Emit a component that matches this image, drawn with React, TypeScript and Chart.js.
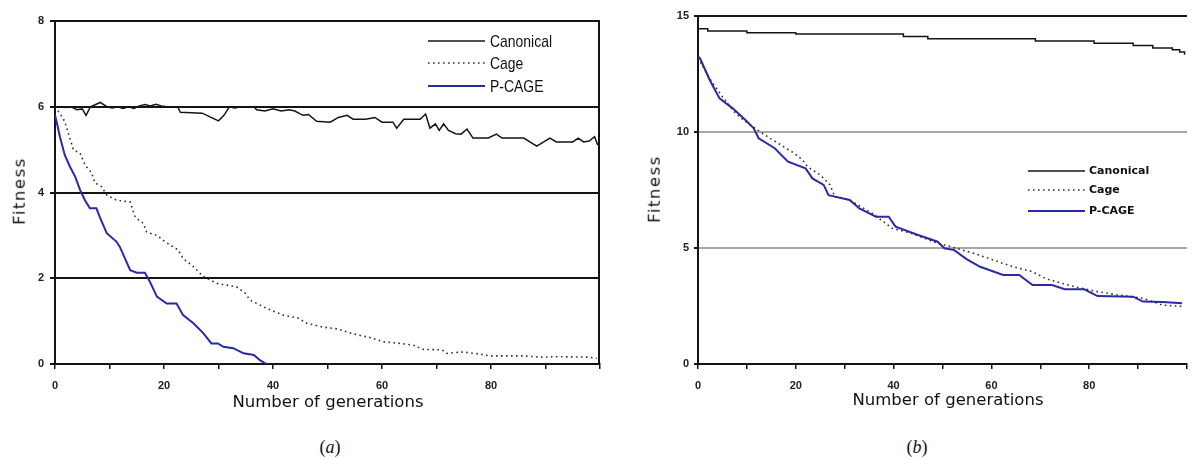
import React, { useEffect, useRef } from "react";
import { Chart, registerables } from "chart.js";

Chart.register(...registerables);

// ---------- DATA ----------
const SERIES_NAMES = ["Canonical", "Cage", "P-CAGE"];
const X_TICK_LABELS = [0, 20, 40, 60, 80];
const A_Y_TICK_LABELS = [0, 2, 4, 6, 8];
const B_Y_TICK_LABELS = [0, 5, 10, 15];

// Chart (a)
const A_CANONICAL_X = [
  0, 1, 2, 3, 4, 5, 5.7, 6.5, 8.3, 9.5,
  10.5, 11.5, 12.5, 13.5, 14.5, 15.5, 16.5, 17.5, 18.5, 19.5,
  20.5, 22.5, 23, 27, 30, 31, 32, 33, 34, 36.5,
  37, 38.5, 40, 41.5, 43, 44, 45.5, 46.5, 48, 50.5,
  52, 53.6, 54.7, 57, 58.7, 60, 62, 62.7, 64, 67,
  68, 68.8, 69.8, 70.5, 71.3, 72.2, 73.5, 74.5, 75.6, 76.7,
  79.5, 81, 82, 86, 88.4, 90.8, 92, 95, 96, 97,
  98, 99, 99.6,
];
const A_CANONICAL_Y = [
  6.0, 6.0, 5.98, 6.0, 5.93, 5.95, 5.8, 6.0, 6.1, 6.0,
  5.97, 6.0, 5.96, 6.0, 5.96, 6.02, 6.05, 6.02, 6.06, 6.02,
  6.0, 6.0, 5.87, 5.85, 5.67, 5.8, 6.0, 5.97, 6.0, 6.0,
  5.93, 5.9, 5.95, 5.9, 5.93, 5.9, 5.8, 5.82, 5.66, 5.64,
  5.75, 5.8, 5.71, 5.71, 5.75, 5.64, 5.64, 5.5, 5.71, 5.71,
  5.83, 5.5, 5.6, 5.45, 5.6, 5.45, 5.37, 5.36, 5.48, 5.27,
  5.27, 5.36, 5.27, 5.27, 5.08, 5.27, 5.18, 5.18, 5.27, 5.18,
  5.2, 5.3, 5.1,
];
const A_CAGE_X = [
  0, 1.5, 2, 2.75, 3.4, 4.6, 5.5, 6.7, 7.3, 8.6,
  9.5, 11.3, 13.8, 14.1, 14.7, 16.2, 16.8, 18.7, 20.2, 22.6,
  23.5, 25.4, 27.2, 29.7, 33.3, 34.9, 35.8, 38.8, 41.9, 44.6,
  46.2, 49.2, 51.7, 55.4, 57.8, 60.2, 63.3, 65.7, 67.6, 71,
  71.9, 74.9, 78, 79.8, 86, 89, 92, 98, 99.4,
];
const A_CAGE_Y = [
  6.0, 5.73, 5.57, 5.25, 4.99, 4.92, 4.64, 4.46, 4.23, 4.13,
  3.94, 3.82, 3.78, 3.66, 3.43, 3.28, 3.08, 3.0, 2.85, 2.66,
  2.46, 2.27, 2.04, 1.88, 1.8, 1.65, 1.49, 1.3, 1.14, 1.07,
  0.95, 0.86, 0.82, 0.68, 0.62, 0.52, 0.48, 0.44, 0.34, 0.33,
  0.25, 0.28, 0.23, 0.19, 0.19, 0.16, 0.17, 0.16, 0.13,
];
const A_PCAGE_X = [
  0, 0.3, 0.9, 1.8, 2.75, 3.7, 4.6, 5.5, 6.4, 7.6,
  8.3, 9.5, 11.3, 11.9, 13.8, 15, 16.5, 17.4, 18.7, 20.5,
  22.3, 23.5, 25.4, 27.2, 28.7, 29.9, 30.9, 32.7, 34.6, 36.5,
  37.6, 38.5, 39,
];
const A_PCAGE_Y = [
  5.8, 5.65, 5.3, 4.87, 4.6, 4.37, 4.06, 3.82, 3.63, 3.63,
  3.4, 3.05, 2.85, 2.73, 2.19, 2.13, 2.13, 1.92, 1.57, 1.41,
  1.41, 1.14, 0.95, 0.72, 0.48, 0.48, 0.4, 0.37, 0.25, 0.21,
  0.09, 0.02, 0,
];

// Chart (b)
const B_CANONICAL_X = [0, 2, 10, 20, 42, 47, 69, 81, 89, 93, 97, 98.5, 99.5];
const B_CANONICAL_Y = [14.45, 14.35, 14.28, 14.22, 14.12, 14.02, 13.92, 13.83, 13.73, 13.62, 13.55, 13.45, 13.33];
const B_CAGE_X = [
  0, 2.4, 5, 7.7, 10, 13.7, 16.4, 19.7, 21.4, 22.4,
  25, 27, 28, 31, 35.7, 39.7, 43.7, 49, 51, 56.4,
  60.4, 64.4, 68.4, 71, 74.4, 77, 81.7, 85.7, 91, 95,
  99,
];
const B_CAGE_Y = [
  13.2, 12.3, 11.52, 10.8, 10.4, 9.87, 9.51, 9.08, 8.79, 8.5,
  8.15, 7.72, 7.2, 7.07, 6.49, 5.85, 5.63, 5.2, 5.1, 4.77,
  4.48, 4.19, 3.98, 3.69, 3.48, 3.33, 3.12, 2.98, 2.83, 2.54,
  2.48,
];
const B_PCAGE_X = [
  0, 0.4, 2.4, 4.4, 7.1, 9.7, 11.4, 12.4, 15.7, 18.4,
  22, 23.4, 25.7, 26.7, 31, 33, 36.4, 39, 40.4, 45,
  49, 50.4, 52.4, 55, 57.7, 62.4, 65.7, 68.4, 72.4, 75,
  79, 81.7, 89, 91, 95, 99,
];
const B_PCAGE_Y = [
  13.25, 13.18, 12.24, 11.45, 11.02, 10.52, 10.16, 9.73, 9.3, 8.72,
  8.43, 8.0, 7.72, 7.28, 7.07, 6.71, 6.35, 6.35, 5.92, 5.56,
  5.27, 4.99, 4.91, 4.51, 4.19, 3.84, 3.84, 3.4, 3.4, 3.22,
  3.22, 2.93, 2.9, 2.69, 2.67, 2.62,
];

// ---------- HELPERS ----------
const zip = (xs: number[], ys: number[]) => xs.map((x, i) => ({ x, y: ys[i] }));

const BLACK = "#141414";
const BLUE = "#2a2aa8";
const TICK_FONT = { family: "'Liberation Sans', Arial, sans-serif", size: 11, weight: "bold" as const };

function makeDatasets(cx: number[], cy: number[], gx: number[], gy: number[], px: number[], py: number[], steppedCanon: boolean) {
  return [
    {
      label: SERIES_NAMES[0],
      data: zip(cx, cy),
      borderColor: BLACK,
      borderWidth: 1.5,
      pointRadius: 0,
      stepped: steppedCanon ? true : false,
      tension: 0,
    },
    {
      label: SERIES_NAMES[1],
      data: zip(gx, gy),
      borderColor: "#303030",
      borderWidth: 1.6,
      borderDash: [1.6, 3.4],
      pointRadius: 0,
      tension: 0,
    },
    {
      label: SERIES_NAMES[2],
      data: zip(px, py),
      borderColor: BLUE,
      borderWidth: 2,
      pointRadius: 0,
      tension: 0,
    },
  ];
}

function legendPlugin(id: string, cfg: { x1: number; x2: number; tx: number; ys: number[]; font: string; sx: number; dy: number }) {
  return {
    id,
    afterDraw(chart: any) {
      const ctx = chart.ctx as CanvasRenderingContext2D;
      chart.data.datasets.forEach((ds: any, i: number) => {
        const y = cfg.ys[i];
        ctx.save();
        ctx.strokeStyle = ds.borderColor;
        ctx.lineWidth = ds.borderWidth;
        ctx.setLineDash(ds.borderDash || []);
        ctx.beginPath();
        ctx.moveTo(cfg.x1, y);
        ctx.lineTo(cfg.x2, y);
        ctx.stroke();
        ctx.setLineDash([]);
        ctx.fillStyle = "#111";
        ctx.font = cfg.font;
        ctx.textBaseline = "middle";
        ctx.textAlign = "left";
        ctx.translate(cfg.tx, y + cfg.dy);
        ctx.scale(cfg.sx, 1);
        ctx.fillText(ds.label, 0, 0);
        ctx.restore();
      });
    },
  };
}

const rightBorder = {
  id: "rightBorder",
  afterDraw(chart: any) {
    const { ctx, chartArea } = chart;
    ctx.save();
    ctx.strokeStyle = BLACK;
    ctx.lineWidth = 2;
    ctx.beginPath();
    ctx.moveTo(chartArea.right - 1, chartArea.top);
    ctx.lineTo(chartArea.right - 1, chartArea.bottom);
    ctx.stroke();
    ctx.restore();
  },
};

function xScale() {
  return {
    type: "linear" as const,
    min: 0,
    max: 100,
    ticks: {
      stepSize: 10,
      autoSkip: false,
      maxRotation: 0,
      padding: 10,
      color: "#222",
      font: TICK_FONT,
      callback: (v: any) => (X_TICK_LABELS.includes(Number(v)) ? String(v) : ""),
    },
    grid: { drawOnChartArea: false, drawTicks: true, tickLength: 5, color: BLACK, lineWidth: 1.5 },
    border: { display: true, color: BLACK, width: 2 },
    afterFit: (s: any) => {
      s.height = 36;
    },
  };
}

// ---------- CHARTS ----------
function ChartA() {
  const ref = useRef<HTMLCanvasElement>(null);
  useEffect(() => {
    const chart = new Chart(ref.current!, {
      type: "line",
      data: { datasets: makeDatasets(A_CANONICAL_X, A_CANONICAL_Y, A_CAGE_X, A_CAGE_Y, A_PCAGE_X, A_PCAGE_Y, false) as any },
      options: {
        animation: false,
        responsive: false,
        devicePixelRatio: 1,
        layout: { padding: { left: 0, top: 21, right: 7, bottom: 0 } },
        plugins: { legend: { display: false }, tooltip: { enabled: false } },
        scales: {
          x: xScale() as any,
          y: {
            min: 0,
            max: 8,
            ticks: {
              stepSize: 2,
              padding: 6,
              color: "#222",
              font: TICK_FONT,
              callback: (v: any) => (A_Y_TICK_LABELS.includes(Number(v)) ? String(v) : ""),
            },
            grid: { color: BLACK, lineWidth: 2, tickLength: 5 },
            border: { display: true, color: BLACK, width: 2 },
            afterFit: (s: any) => {
              s.width = 55;
            },
          },
        },
      },
      plugins: [
        rightBorder,
        legendPlugin("legendA", {
          x1: 428,
          x2: 485,
          tx: 490,
          ys: [41, 63, 86],
          font: "17px 'Liberation Sans', Arial, sans-serif",
          sx: 0.82,
          dy: 1,
        }),
      ],
    });
    return () => chart.destroy();
  }, []);
  return (
    <canvas
      ref={ref}
      width={610}
      height={400}
      style={{ position: "absolute", left: 0, top: 0, width: 610, height: 400 }}
    />
  );
}

function ChartB() {
  const ref = useRef<HTMLCanvasElement>(null);
  useEffect(() => {
    const left = 620;
    const chart = new Chart(ref.current!, {
      type: "line",
      data: { datasets: makeDatasets(B_CANONICAL_X, B_CANONICAL_Y, B_CAGE_X, B_CAGE_Y, B_PCAGE_X, B_PCAGE_Y, true) as any },
      options: {
        animation: false,
        responsive: false,
        devicePixelRatio: 1,
        layout: { padding: { left: 0, top: 16, right: 0, bottom: 0 } },
        plugins: { legend: { display: false }, tooltip: { enabled: false } },
        scales: {
          x: xScale() as any,
          y: {
            min: 0,
            max: 15,
            ticks: {
              stepSize: 5,
              padding: 5,
              color: "#222",
              font: TICK_FONT,
              callback: (v: any) => (B_Y_TICK_LABELS.includes(Number(v)) ? String(v) : ""),
            },
            grid: {
              color: (c: any) => (c.tick && (c.tick.value === 15 || c.tick.value === 0) ? BLACK : "#a8a8a8"),
              tickColor: BLACK,
              lineWidth: 2,
              tickLength: 4,
            },
            border: { display: true, color: BLACK, width: 2 },
            afterFit: (s: any) => {
              s.width = 78;
            },
          },
        },
      },
      plugins: [
        legendPlugin("legendB", {
          x1: 1028 - left,
          x2: 1085 - left,
          tx: 1089 - left,
          ys: [171, 190, 211],
          font: "bold 11px 'DejaVu Sans', sans-serif",
          sx: 1,
          dy: 0,
        }),
      ],
    });
    return () => chart.destroy();
  }, []);
  return (
    <canvas
      ref={ref}
      width={577}
      height={400}
      style={{ position: "absolute", left: 620, top: 0, width: 577, height: 400 }}
    />
  );
}

const titleStyle: React.CSSProperties = {
  position: "absolute",
  fontFamily: "'DejaVu Sans', Verdana, sans-serif",
  fontSize: 16.5,
  lineHeight: 1,
  whiteSpace: "nowrap",
  color: "#111",
};

function XTitle({ cx, cy }: { cx: number; cy: number }) {
  return (
    <div style={{ ...titleStyle, left: cx, top: cy, transform: "translate(-50%, -50%)" }}>
      Number of generations
    </div>
  );
}

function YTitle({ cx, cy }: { cx: number; cy: number }) {
  return (
    <div
      style={{
        ...titleStyle,
        letterSpacing: "1.5px",
        left: cx,
        top: cy,
        transform: "translate(-50%, -50%) rotate(-90deg)",
      }}
    >
      Fitness
    </div>
  );
}

function Caption({ cx, cy, letter }: { cx: number; cy: number; letter: string }) {
  return (
    <div
      style={{
        position: "absolute",
        left: cx,
        top: cy,
        transform: "translate(-50%, -50%)",
        fontFamily: "'Liberation Serif', 'DejaVu Serif', serif",
        fontSize: 18,
        lineHeight: 1,
        whiteSpace: "nowrap",
        color: "#111",
      }}
    >
      (<i>{letter}</i>)
    </div>
  );
}

export default function App() {
  return (
    <div
      style={{
        position: "absolute",
        left: 0,
        top: 0,
        width: 1197,
        height: 459,
        overflow: "hidden",
        background: "#fff",
      }}
    >
      <ChartA />
      <ChartB />
      <XTitle cx={328} cy={402} />
      <XTitle cx={948} cy={400} />
      <YTitle cx={20} cy={191} />
      <YTitle cx={655} cy={189} />
      <Caption cx={330} cy={447} letter="a" />
      <Caption cx={917} cy={447} letter="b" />
    </div>
  );
}
